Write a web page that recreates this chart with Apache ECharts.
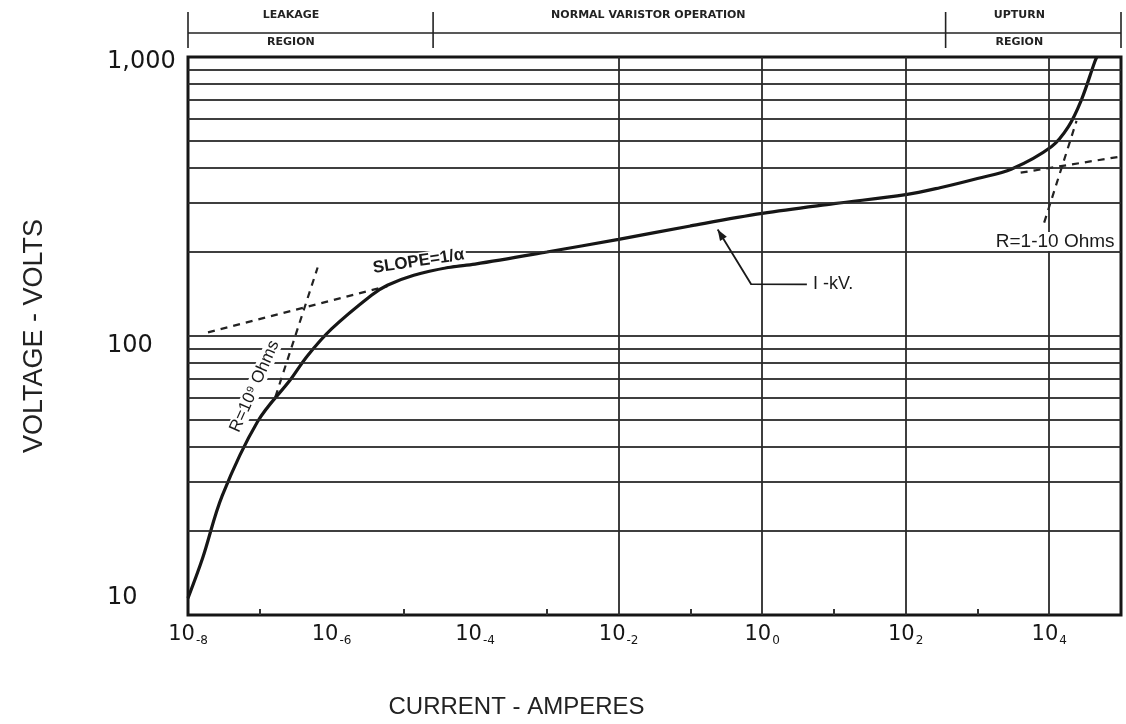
<!DOCTYPE html>
<html><head><meta charset="utf-8">
<script src="https://cdn.jsdelivr.net/npm/echarts@6/dist/echarts.min.js"></script>
<style>html,body{margin:0;padding:0;background:#fff;}#c{width:1126px;height:724px;}</style>
</head><body><div id="c"></div>
<script>
// ---------- data ----------
const curveCurrent = [1e-8, 1.6e-8, 3.0e-8, 9.3e-8, 2.7e-7, 4.6e-7, 1e-6, 3.6e-6, 6e-6, 1.4e-5, 4.2e-5, 1e-4, 1e-3, 1e-2, 1e-1, 1, 10, 100, 300, 1e3, 3e3, 1.07e4, 1.84e4, 2.8e4, 4.3e4, 4.6e4];
const curveVoltage = [11.5, 16, 26.8, 49.3, 70, 84.8, 106, 140, 152, 165, 176, 181, 200, 222, 248, 275, 298, 321, 340, 367, 397, 477, 562, 701, 960, 1000];
const leakSlopeCurrent = [1.9e-8, 6e-6];
const leakSlopeVoltage = [103, 151];
const leakRCurrent = [1.65e-7, 6.4e-7];
const leakRVoltage = [60.5, 176];
const upRCurrent = [8.5e3, 2.4e4];
const upRVoltage = [255, 590];
const upSlopeCurrent = [4e3, 1e5];
const upSlopeVoltage = [385, 440];
const hGridValues = [20, 30, 40, 50, 60, 70, 80, 90, 100, 200, 300, 400, 500, 600, 700, 800, 900];
const vGridValues = [1e-6, 1e-4, 1e-2, 1, 1e2, 1e4];
const xLabelValues = [1e-8, 1e-6, 1e-4, 1e-2, 1, 1e2, 1e4];
const xMinorTickValues = [1e-7, 1e-5, 1e-3, 1e-1, 10, 1e3];
const yLabelValues = [10, 100, 1000];
const regionBounds = [1e-8, 2.6e-5, 360, 1e5];
const regionTop = ['LEAKAGE', 'NORMAL VARISTOR OPERATION', 'UPTURN'];
const regionBottom = ['REGION', '', 'REGION'];
const slopeLabel = {text: 'SLOPE=1/α', at: [1.63e-5, 185]};
const leakRLabel = {text: 'R=10⁹ Ohms', at: [8.5e-8, 66]};
const upRLabel = {text: 'R=1-10 Ohms', at: [1.8e3, 218]};
const kvArrow = {text: 'I -kV.', path: [[0.24, 241], [0.70, 153.5], [4.2, 153]], textAt: [5.1, 153]};

const pairs = (xs, ys) => xs.map((x, i) => [x, ys[i]]);
const INK = '#161616';

const chart = echarts.init(document.getElementById('c'), null, {renderer: 'canvas'});
const option = {
  backgroundColor: '#ffffff',
  animation: false,
  grid: {left: 188, right: 5, top: 57, bottom: 107, show: true, borderColor: INK, borderWidth: 3, backgroundColor: 'transparent'},
  xAxis: {
    type: 'log', logBase: 10, min: 1e-8, max: 1e5,
    axisLine: {show: false},
    splitLine: {show: false},
    minorTick: {show: false},
    axisTick: {show: true, inside: true, length: 6, customValues: xMinorTickValues, lineStyle: {color: '#333', width: 2}},
    axisLabel: {
      customValues: xLabelValues, margin: 8,
      formatter: v => { const e = Math.round(Math.log10(v)); return '{b|10}{s|' + (e < 0 ? '-' + (-e) : e) + '}'; },
      rich: {
        b: {fontFamily: 'DejaVu Sans', fontSize: 21, color: INK, lineHeight: 24},
        s: {fontFamily: 'DejaVu Sans', fontSize: 12, color: INK, verticalAlign: 'bottom', padding: [0, 0, 0, 1]}
      }
    },
    name: 'CURRENT - AMPERES', nameLocation: 'middle', nameGap: 80,
    nameTextStyle: {fontFamily: 'Liberation Sans', fontSize: 24, color: '#222', padding: [0, 276, 0, 0]}
  },
  yAxis: {
    type: 'log', logBase: 10, min: 10, max: 1000,
    axisLine: {show: false}, axisTick: {show: false}, splitLine: {show: false}, minorTick: {show: false},
    axisLabel: {
      customValues: yLabelValues, align: 'left', margin: 81,
      formatter: v => v >= 1000 ? '{t|1,000}' : (v >= 100 ? '{m|100}' : '{l|10}'),
      rich: {
        t: {fontFamily: 'DejaVu Sans', fontSize: 24, color: INK, padding: [10, 0, 0, 0]},
        m: {fontFamily: 'DejaVu Sans', fontSize: 24, color: INK, padding: [20, 0, 0, 0]},
        l: {fontFamily: 'DejaVu Sans', fontSize: 24, color: INK, padding: [0, 0, 34, 0]}
      }
    },
    name: 'VOLTAGE - VOLTS', nameLocation: 'middle', nameRotate: 90, nameGap: 140,
    nameTextStyle: {fontFamily: 'Liberation Sans', fontSize: 27, color: '#222'}
  },
  series: [
    {
      type: 'line', name: 'grid', z: 1, silent: true, showSymbol: false,
      data: [[1e-8, 10]],
      markLine: {
        silent: true, symbol: ['none', 'none'], label: {show: false}, animation: false,
        lineStyle: {color: '#2a2a2a', width: 2, type: 'solid', opacity: 0.9},
        emphasis: {disabled: true},
        data: hGridValues.map(v => ({yAxis: v})).concat(vGridValues.map(v => ({xAxis: v})))
      }
    },
    {type: 'line', name: 'V-I', z: 4, smooth: 0.35, showSymbol: false, clip: true,
     lineStyle: {color: INK, width: 3.2}, data: pairs(curveCurrent, curveVoltage)},
    {type: 'line', z: 3, showSymbol: false, lineStyle: {color: '#222', width: 2.2, type: [7, 6]}, data: pairs(leakSlopeCurrent, leakSlopeVoltage)},
    {type: 'line', z: 3, showSymbol: false, lineStyle: {color: '#222', width: 2.2, type: [7, 6]}, data: pairs(leakRCurrent, leakRVoltage)},
    {type: 'line', z: 3, showSymbol: false, lineStyle: {color: '#222', width: 2.2, type: [7, 6]}, data: pairs(upRCurrent, upRVoltage)},
    {type: 'line', z: 3, showSymbol: false, lineStyle: {color: '#222', width: 2.2, type: [7, 6]}, data: pairs(upSlopeCurrent, upSlopeVoltage)},
    {
      type: 'custom', z: 6, silent: true, clip: false,
      data: [[1, 100]],
      renderItem: function (params, api) {
        const cs = params.coordSys;
        const ch = [];
        // region brackets above the plot
        const lineY = cs.y - 24;
        const xs = regionBounds.map(v => api.coord([v, 100])[0]);
        ch.push({type: 'line', shape: {x1: xs[0], y1: lineY, x2: xs[xs.length - 1], y2: lineY}, style: {stroke: '#222', lineWidth: 1.6}});
        xs.forEach(x => ch.push({type: 'line', shape: {x1: x, y1: cs.y - 45, x2: x, y2: cs.y - 9}, style: {stroke: '#222', lineWidth: 1.6}}));
        for (let i = 0; i < regionTop.length; i++) {
          const cx = xs[i] + 0.42 * (xs[i + 1] - xs[i]);
          ch.push({type: 'text', style: {text: regionTop[i], x: cx, y: lineY - 18, align: 'center', verticalAlign: 'middle', font: 'bold 11px "DejaVu Sans"', fill: '#222'}});
          if (regionBottom[i]) ch.push({type: 'text', style: {text: regionBottom[i], x: cx, y: lineY + 9, align: 'center', verticalAlign: 'middle', font: 'bold 11px "DejaVu Sans"', fill: '#222'}});
        }
        // slope label
        const sp = api.coord(slopeLabel.at);
        ch.push({type: 'text', x: sp[0], y: sp[1], rotation: 0.15, style: {text: slopeLabel.text, x: 0, y: 0, align: 'center', verticalAlign: 'middle', font: 'bold 17px "Liberation Sans"', fill: '#1a1a1a', backgroundColor: '#fff', padding: [0, 2]}});
        // R = 10^9 label
        const lp = api.coord(leakRLabel.at);
        ch.push({type: 'text', x: lp[0], y: lp[1], rotation: 1.15, style: {text: leakRLabel.text, x: 0, y: 0, align: 'center', verticalAlign: 'middle', font: '17px "Liberation Sans"', fill: '#1a1a1a', backgroundColor: '#fff'}});
        // R = 1-10 label
        const up = api.coord(upRLabel.at);
        ch.push({type: 'text', style: {text: upRLabel.text, x: up[0], y: up[1], align: 'left', verticalAlign: 'middle', font: '19px "Liberation Sans"', fill: '#1a1a1a', backgroundColor: '#fff'}});
        // 1-kV arrow
        const pts = kvArrow.path.map(p => api.coord(p));
        ch.push({type: 'polyline', shape: {points: pts}, style: {stroke: '#1a1a1a', lineWidth: 1.8, fill: null}});
        const tip = pts[0], nx = pts[1];
        const dx = tip[0] - nx[0], dy = tip[1] - nx[1], L = Math.hypot(dx, dy);
        const ux = dx / L, uy = dy / L;
        const bx = tip[0] - ux * 11, by = tip[1] - uy * 11;
        ch.push({type: 'polygon', shape: {points: [tip, [bx - uy * 4, by + ux * 4], [bx + uy * 4, by - ux * 4]]}, style: {fill: '#1a1a1a'}});
        const tp = api.coord(kvArrow.textAt);
        ch.push({type: 'text', style: {text: kvArrow.text, x: tp[0], y: tp[1], align: 'left', verticalAlign: 'middle', font: '18px "Liberation Sans"', fill: '#1a1a1a', backgroundColor: '#fff'}});
        return {type: 'group', children: ch};
      }
    }
  ]
};
chart.setOption(option);
</script></body></html>
